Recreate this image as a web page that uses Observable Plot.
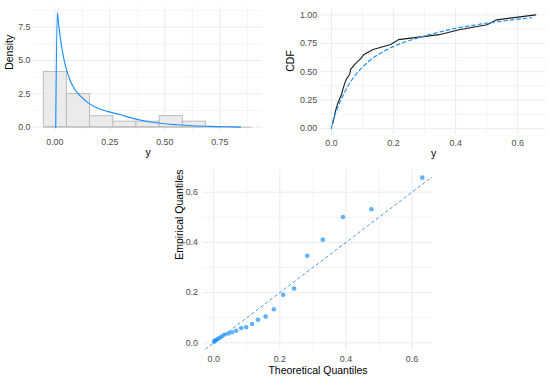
<!DOCTYPE html>
<html><head><meta charset="utf-8">
<script src="https://cdn.jsdelivr.net/npm/d3@7"></script>
<script src="https://cdn.jsdelivr.net/npm/@observablehq/plot@0.6"></script>
<style>
html,body{margin:0;padding:0;background:#fff;}
#wrap{position:relative;width:550px;height:378px;overflow:hidden;background:#fff;}
#wrap > svg{position:absolute;}
</style></head><body><div id="wrap"></div>
<script>
// ---- data ----
const sortedY = [0.004, 0.008, 0.011, 0.015, 0.020, 0.026, 0.033, 0.037, 0.042, 0.048, 0.059, 0.062,
                 0.075, 0.092, 0.105, 0.134, 0.191, 0.216, 0.347, 0.411, 0.501, 0.532, 0.658];
const theoQ   = [0.001, 0.003, 0.007, 0.012, 0.018, 0.025, 0.033, 0.044, 0.055, 0.068, 0.083, 0.098,
                 0.116, 0.134, 0.157, 0.182, 0.210, 0.243, 0.283, 0.330, 0.391, 0.477, 0.631];
const histBreaks = [-0.050, 0.055, 0.160, 0.266, 0.371, 0.477, 0.582, 0.687, 0.792, 0.897];
const densX = [0.004, 0.011, 0.018, 0.026, 0.034, 0.044, 0.056, 0.071, 0.094, 0.117, 0.147, 0.185,
               0.238, 0.300, 0.350, 0.400, 0.450, 0.500, 0.556, 0.625, 0.708, 0.784, 0.844];
const densY = [0, 8.6, 7.6, 6.6, 5.75, 4.9, 4.15, 3.45, 2.75, 2.33, 1.88, 1.5,
               1.18, 0.93, 0.68, 0.49, 0.35, 0.255, 0.18, 0.105, 0.055, 0.03, 0.005];
const cdfX = [0, 0.005, 0.01, 0.02, 0.03, 0.04, 0.05, 0.065, 0.08, 0.10, 0.12, 0.15, 0.18, 0.22,
              0.26, 0.30, 0.35, 0.40, 0.45, 0.50, 0.55, 0.60, 0.645];
const cdfY = [0, 0.07, 0.11, 0.185, 0.25, 0.305, 0.36, 0.425, 0.48, 0.54, 0.592, 0.65, 0.697, 0.745,
              0.782, 0.815, 0.85, 0.882, 0.905, 0.927, 0.945, 0.962, 0.975];
const qqLine = {intercept: 0, slope: 1};

const histXTicks = [0, 0.25, 0.5, 0.75], histXMinor = [0.125, 0.375, 0.625, 0.875];
const histYTicks = [0, 2.5, 5, 7.5], histYMinor = [1.25, 3.75, 6.25, 8.75];
const cdfXTicks = [0, 0.2, 0.4, 0.6], cdfXMinor = [0.1, 0.3, 0.5];
const cdfYTicks = [0, 0.25, 0.5, 0.75, 1], cdfYMinor = [0.125, 0.375, 0.625, 0.875];
const qqTicks = [0, 0.2, 0.4, 0.6], qqMinor = [0.1, 0.3, 0.5];

// ---- derived tables ----
const n = sortedY.length;
const bins = d3.bin().domain([histBreaks[0], histBreaks[histBreaks.length - 1]])
  .thresholds(histBreaks.slice(1, -1))(sortedY)
  .map(b => ({x1: b.x0, x2: b.x1, density: b.length / (n * (b.x1 - b.x0))}));
const dens = densX.map((x, i) => ({x, y: densY[i]}));
const ecdf = sortedY.map((x, i) => ({x, y: (i + 1) / n}));
const tcdf = cdfX.map((x, i) => ({x, y: cdfY[i]}));
const qq = theoQ.map((t, i) => ({t, e: sortedY[i]}));

const FONT = "'Liberation Sans', Arial, Helvetica, sans-serif";
const TICK = "#4d4d4d", MAJ = "#ebebeb", TF = 8.9;
const style = {fontFamily: FONT, fontSize: TF + "px", color: TICK, background: "transparent", overflow: "visible"};

function grid(xMaj, xMin, yMaj, yMin) {
  return [
    Plot.ruleX(xMin, {stroke: MAJ, strokeWidth: 0.55}),
    Plot.ruleY(yMin, {stroke: MAJ, strokeWidth: 0.55}),
    Plot.ruleX(xMaj, {stroke: MAJ, strokeWidth: 1}),
    Plot.ruleY(yMaj, {stroke: MAJ, strokeWidth: 1})
  ];
}
function axes(xt, xf, yt, yf, ypad) {
  return [
    Plot.axisX({ticks: xt, tickFormat: xf, tickSize: 0, tickPadding: 5.8, label: null, fill: TICK, fontSize: TF}),
    Plot.axisY({ticks: yt, tickFormat: yf, tickSize: 0, tickPadding: ypad, label: null, fill: TICK, fontSize: TF})
  ];
}
function titles(xTitle, yTitle, ydx, xdy) {
  return [
    Plot.text([xTitle], {frameAnchor: "bottom", dy: xdy, lineAnchor: "top", fontSize: 10.5, fill: "black"}),
    Plot.text([yTitle], {frameAnchor: "left", dx: ydx, rotate: -90, fontSize: 10.5, fill: "black"})
  ];
}
const wrap = document.getElementById("wrap");
function place(svg, left, top) { svg.style.left = left + "px"; svg.style.top = top + "px"; wrap.appendChild(svg); }

// ---- histogram + density ----
const p1 = Plot.plot({
  width: 275, height: 160,
  marginLeft: 33, marginRight: 13, marginTop: 6.3, marginBottom: 27.6,
  x: {domain: [-0.097, 0.944]},
  y: {domain: [-0.43, 9.03]},
  style,
  marks: [
    ...grid(histXTicks, histXMinor, histYTicks, histYMinor),
    Plot.rectY(bins, {x1: "x1", x2: "x2", y: "density", fill: "#ebebeb", stroke: "#bdbdbd", strokeWidth: 1}),
    Plot.ruleY(bins, {y: 0, x1: "x1", x2: "x2", stroke: "#bdbdbd", strokeWidth: 1}),
    Plot.line(dens, {x: "x", y: "y", stroke: "#1e90ff", strokeWidth: 1.2, curve: "monotone-x"}),
    ...axes(histXTicks, d3.format(".2f"), histYTicks, d3.format(".1f"), 3),
    ...titles("y", "Density", -24, 15.5)
  ]
});
place(p1, 0, 0);

// ---- CDF ----
const p2 = Plot.plot({
  width: 275, height: 160,
  marginLeft: 45.7, marginRight: 4.5, marginTop: 8.7, marginBottom: 26.2,
  x: {domain: [-0.0329, 0.6909]},
  y: {domain: [-0.05, 1.05]},
  style,
  marks: [
    ...grid(cdfXTicks, cdfXMinor, cdfYTicks, cdfYMinor),
    Plot.line(ecdf, {x: "x", y: "y", stroke: "#1a1a1a", strokeWidth: 1.1}),
    Plot.line(tcdf, {x: "x", y: "y", stroke: "#1e90ff", strokeWidth: 1.2, strokeDasharray: "3.5,3", curve: "monotone-x"}),
    ...axes(cdfXTicks, d3.format(".1f"), cdfYTicks, d3.format(".2f"), 4),
    ...titles("y", "CDF", -30.7, 15.5)
  ]
});
place(p2, 275, 0);

// ---- QQ ----
const qxDom = [-0.031, 0.662], qyDom = [-0.029, 0.69];
const lineEnds = [qxDom[0] - 0.05, qxDom[1] + 0.05].map(t => ({t, e: qqLine.intercept + qqLine.slope * t}));
const p3 = Plot.plot({
  width: 300, height: 218,
  marginLeft: 53, marginRight: 18, marginTop: 9.1, marginBottom: 28.4,
  x: {domain: qxDom},
  y: {domain: qyDom},
  style,
  marks: [
    ...grid(qqTicks, qqMinor, qqTicks, qqMinor),
    Plot.line(lineEnds, {x: "t", y: "e", stroke: "#3a8ee0", strokeWidth: 0.9, strokeDasharray: "2.6,3.2", clip: true}),
    Plot.dot(qq, {x: "t", y: "e", r: 2.3, fill: "#1e90ff", fillOpacity: 0.7, stroke: "none"}),
    ...axes(qqTicks, d3.format(".1f"), qqTicks, d3.format(".1f"), 5.5),
    ...titles("Theoretical Quantiles", "Empirical Quantiles", -24, 16.2)
  ]
});
place(p3, 150, 160);
</script></body></html>
